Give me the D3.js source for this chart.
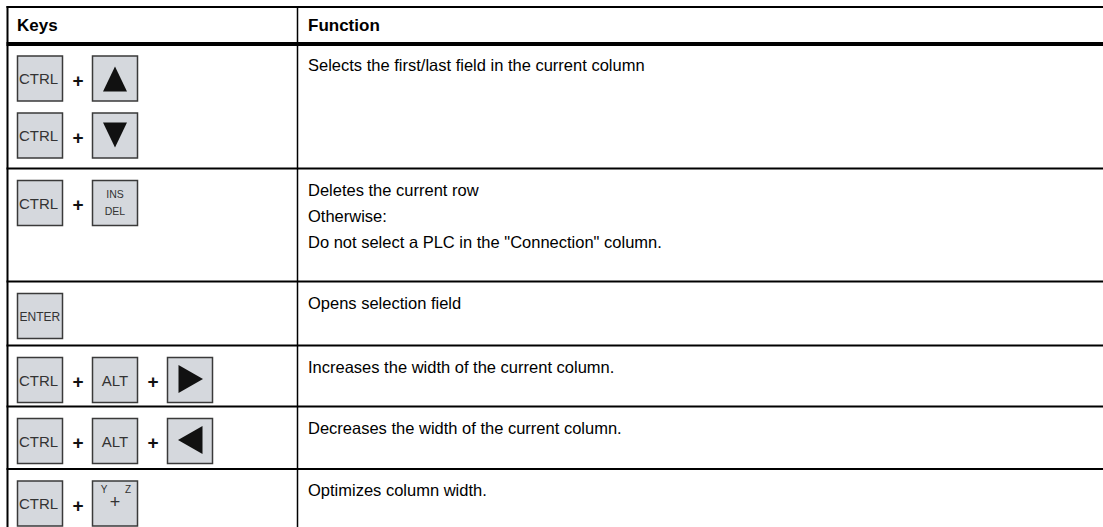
<!DOCTYPE html>
<html>
<head>
<meta charset="utf-8">
<script src="https://cdn.jsdelivr.net/npm/d3@7"></script>
<style>
  html, body { margin: 0; padding: 0; background: #fff; }
  svg { display: block; }
</style>
</head>
<body>
<div id="chart"></div>
<script>
// ---- data ----
const headers = ["Keys", "Function"];
// each row: list of key combinations (each a list of keys)
const keyCombos = [
  [["CTRL", "UP"], ["CTRL", "DOWN"]],
  [["CTRL", "INS_DEL"]],
  [["ENTER"]],
  [["CTRL", "ALT", "RIGHT"]],
  [["CTRL", "ALT", "LEFT"]],
  [["CTRL", "YZ_PLUS"]]
];
const functionLines = [
  ["Selects the first/last field in the current column"],
  ["Deletes the current row", "Otherwise:", "Do not select a PLC in the \"Connection\" column."],
  ["Opens selection field"],
  ["Increases the width of the current column."],
  ["Decreases the width of the current column."],
  ["Optimizes column width."]
];

// ---- layout ----
const W = 1103, H = 527;
const tableLeft = 7.5, tableTop = 7, divX = 297.5;
const headerH = 37;
const rowHeights = [124.5, 113, 64, 61, 62.5, 70];
const keySize = 46, keyGap = 75, comboGap = 57;
const lineGap = 26;

const svg = d3.select("#chart").append("svg").attr("width", W).attr("height", H);

// row boundaries
const bounds = [tableTop, tableTop + headerH];
rowHeights.forEach(h => bounds.push(bounds[bounds.length - 1] + h));

// row scale: index -> top
const rowTop = d3.scaleOrdinal().domain(d3.range(rowHeights.length)).range(bounds.slice(1, -1));
const keyX = d3.scaleLinear().domain([0, 1]).range([17, 17 + keyGap]);

const font = "'Liberation Sans', Arial, sans-serif";

// header text
svg.selectAll("text.hdr").data(headers).join("text")
  .attr("class", "hdr")
  .attr("x", (d, i) => i === 0 ? 17 : 308)
  .attr("y", tableTop + 24)
  .attr("font-family", font).attr("font-weight", "bold").attr("font-size", 17)
  .attr("fill", "#000")
  .text(d => d);

// function text
const rows = svg.selectAll("g.row").data(functionLines).join("g").attr("class", "row");
rows.selectAll("text").data(d => d).join("text")
  .attr("x", 308)
  .attr("y", function (d, j) {
    const i = functionLines.indexOf(d3.select(this.parentNode).datum());
    return rowTop(i) + 27 + j * lineGap;
  })
  .attr("font-family", font).attr("font-size", 16.5).attr("fill", "#000")
  .text(d => d);

// keys
const keyFill = "#d5d8dd", keyStroke = "#3a3a3a", labelFill = "#333";
keyCombos.forEach((combos, i) => {
  combos.forEach((combo, c) => {
    const ky = rowTop(i) + 11.5 + c * comboGap;
    combo.forEach((k, j) => {
      const kx = keyX(j);
      const g = svg.append("g").attr("transform", `translate(${kx},${ky})`);
      g.append("rect").attr("x", 0.5).attr("y", 0.5)
        .attr("width", keySize - 1).attr("height", keySize - 1)
        .attr("fill", keyFill).attr("stroke", keyStroke).attr("stroke-width", 1.5);
      const cx = keySize / 2, cy = keySize / 2;
      if (k === "CTRL") {
        g.append("text").attr("x", 2).attr("y", cy + 5.5)
          .attr("font-family", font).attr("font-size", 15).attr("fill", labelFill).text("CTRL");
      } else if (k === "ALT") {
        g.append("text").attr("x", cx).attr("y", cy + 5.5).attr("text-anchor", "middle")
          .attr("font-family", font).attr("font-size", 15).attr("fill", labelFill).text("ALT");
      } else if (k === "ENTER") {
        g.append("text").attr("x", 2.5).attr("y", cy + 4.5)
          .attr("font-family", font).attr("font-size", 12).attr("fill", labelFill).text("ENTER");
      } else if (k === "INS_DEL") {
        g.append("text").attr("x", cx).attr("y", 18).attr("text-anchor", "middle")
          .attr("font-family", font).attr("font-size", 10.5).attr("fill", labelFill).text("INS");
        g.append("text").attr("x", cx).attr("y", 35).attr("text-anchor", "middle")
          .attr("font-family", font).attr("font-size", 10.5).attr("fill", labelFill).text("DEL");
      } else if (k === "YZ_PLUS") {
        g.append("text").attr("x", 12).attr("y", 12).attr("text-anchor", "middle")
          .attr("font-family", font).attr("font-size", 10).attr("fill", labelFill).text("Y");
        g.append("text").attr("x", 36).attr("y", 12).attr("text-anchor", "middle")
          .attr("font-family", font).attr("font-size", 10).attr("fill", labelFill).text("Z");
        g.append("text").attr("x", 23).attr("y", 27).attr("text-anchor", "middle")
          .attr("font-family", font).attr("font-size", 18).attr("fill", labelFill).text("+");
      } else {
        let pts;
        if (k === "UP") pts = [[cx, 11], [cx + 12, 36], [cx - 12, 36]];
        if (k === "DOWN") pts = [[cx - 12, 10], [cx + 12, 10], [cx, 35]];
        if (k === "RIGHT") pts = [[11.5, 8], [36, 22], [11.5, 36]];
        if (k === "LEFT") pts = [[35.5, 8], [11, 22], [35.5, 36]];
        g.append("path").attr("d", d3.line()(pts) + "Z").attr("fill", "#111");
      }
      if (j < combo.length - 1) {
        svg.append("text").attr("x", kx + keySize + 15).attr("y", ky + 31).attr("text-anchor", "middle")
          .attr("font-family", font).attr("font-weight", "bold").attr("font-size", 19)
          .attr("fill", "#111").text("+");
      }
    });
  });
});

// grid lines
const hLines = bounds.slice(0, -1);
svg.selectAll("line.h").data(hLines).join("line")
  .attr("class", "h")
  .attr("x1", tableLeft - 1).attr("x2", W)
  .attr("y1", d => d).attr("y2", d => d)
  .attr("stroke", "#000")
  .attr("stroke-width", (d, i) => i === 1 ? 4 : 2);
svg.append("line").attr("x1", tableLeft).attr("x2", tableLeft)
  .attr("y1", tableTop - 1).attr("y2", H).attr("stroke", "#000").attr("stroke-width", 2);
svg.append("line").attr("x1", divX).attr("x2", divX)
  .attr("y1", tableTop - 1).attr("y2", H).attr("stroke", "#000").attr("stroke-width", 1.5);
</script>
</body>
</html>
